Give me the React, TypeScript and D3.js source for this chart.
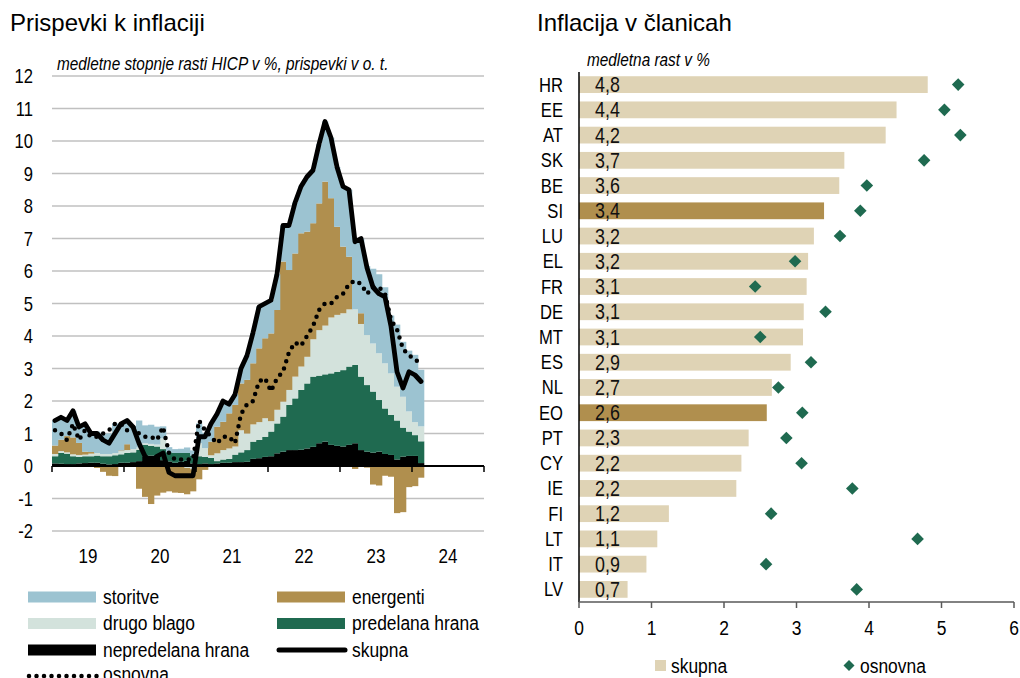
import React from "react";
import * as d3 from "d3";

// ---------- Left chart data: monthly, Jan 2019 .. Feb 2024 ----------
const yearLabels = ["19", "20", "21", "22", "23", "24"];

// nepredelana hrana (unprocessed food), contributions in p.p.
const unprocessedFood = [
  0.08, 0.07, 0.06, 0.06, 0.08, 0.09, 0.10, 0.10, 0.07, 0.05, 0.06, 0.10,
  0.10, 0.12, 0.15, 0.30, 0.32, 0.28, 0.18, 0.14, 0.10, 0.13, 0.16, 0.08,
  0.06, 0.08, 0.06, 0.08, 0.10, 0.10, 0.12, 0.12, 0.13, 0.22, 0.24, 0.28,
  0.30, 0.39, 0.44, 0.49, 0.49, 0.50, 0.54, 0.59, 0.70, 0.75, 0.65, 0.62,
  0.60, 0.65, 0.70, 0.49, 0.44, 0.41, 0.44, 0.37, 0.34, 0.20, 0.29, 0.31,
  0.31, 0.09,
];
// predelana hrana (processed food)
const processedFood = [
  0.22, 0.33, 0.32, 0.24, 0.20, 0.21, 0.20, 0.22, 0.23, 0.25, 0.27, 0.26,
  0.30, 0.30, 0.35, 0.35, 0.30, 0.32, 0.34, 0.28, 0.30, 0.27, 0.24, 0.24,
  0.24, 0.20, 0.19, 0.07, 0.10, 0.12, 0.23, 0.30, 0.36, 0.53, 0.56, 0.62,
  0.76, 0.92, 1.08, 1.39, 1.59, 1.84, 2.00, 2.16, 2.08, 2.07, 2.20, 2.28,
  2.35, 2.41, 2.41, 2.26, 2.05, 1.88, 1.59, 1.40, 1.23, 1.20, 0.89, 0.75,
  0.64, 0.67,
];
// drugo blago (non-energy industrial goods)
const otherGoods = [
  0.07, 0.06, 0.04, 0.06, 0.06, 0.05, 0.08, 0.08, 0.07, 0.07, 0.07, 0.10,
  0.09, 0.10, 0.07, 0.05, 0.06, 0.06, 0.33, -0.02, -0.02, -0.03, -0.06, -0.10,
  0.40, 0.27, 0.08, 0.24, 0.29, 0.32, 0.25, 0.68, 0.51, 0.53, 0.55, 0.57,
  0.32, 0.42, 0.46, 0.46, 0.67, 0.72, 0.82, 1.15, 1.40, 1.50, 1.72, 1.75,
  1.75, 1.76, 1.71, 1.62, 1.54, 1.48, 1.44, 1.39, 1.28, 1.04, 0.95, 0.62,
  0.40, 0.46,
];
// energenti (energy)
const energy = [
  0.26, 0.35, 0.50, 0.52, 0.37, 0.09, 0.05, -0.06, -0.18, -0.30, -0.31, 0.02,
  0.18, -0.03, -0.70, -0.95, -1.17, -0.91, -0.82, -0.76, -0.80, -0.80, -0.81, -0.68,
  -0.41, -0.12, 0.42, 0.82, 0.87, 1.08, 1.28, 1.44, 1.65, 1.88, 2.27, 2.46,
  2.70, 3.07, 4.31, 3.69, 3.79, 4.10, 3.85, 3.57, 3.90, 4.43, 3.67, 2.71,
  2.05, 1.62, -0.09, 0.33, -0.05, -0.57, -0.60, -0.30, -0.33, -1.45, -1.42, -0.65,
  -0.62, -0.36,
];
// storitve (services)
const services = [
  0.77, 0.69, 0.48, 0.82, 0.49, 0.86, 0.57, 0.66, 0.61, 0.63, 0.91, 0.82,
  0.73, 0.71, 0.83, 0.55, 0.59, 0.55, 0.37, 0.16, 0.12, 0.13, 0.17, 0.16,
  0.61, 0.47, 0.55, 0.39, 0.64, 0.28, 0.32, 0.46, 0.75, 0.94, 1.28, 1.07,
  1.02, 1.10, 1.11, 1.37, 1.56, 1.44, 1.69, 1.63, 1.82, 1.85, 1.86, 1.84,
  1.85, 2.06, 2.17, 2.30, 2.12, 2.30, 2.43, 2.34, 1.78, 1.91, 1.69, 1.87,
  2.07, 1.74,
];
// skupna (headline HICP, y/y %)
const headline = [
  1.4, 1.5, 1.4, 1.7, 1.2, 1.3, 1.0, 1.0, 0.8, 0.7, 1.0, 1.3,
  1.4, 1.2, 0.7, 0.3, 0.1, 0.3, 0.4, -0.2, -0.3, -0.3, -0.3, -0.3,
  0.9, 0.9, 1.3, 1.6, 2.0, 1.9, 2.2, 3.0, 3.4, 4.1, 4.9, 5.0,
  5.1, 5.9, 7.4, 7.4, 8.1, 8.6, 8.9, 9.1, 9.9, 10.6, 10.1, 9.2,
  8.6, 8.5, 6.9, 7.0, 6.1, 5.5, 5.3, 5.2, 4.3, 2.9, 2.4, 2.9,
  2.8, 2.6,
];
// osnovna (core, y/y %)
const core = [
  1.1, 1.0, 0.8, 1.3, 0.8, 1.1, 0.9, 0.9, 1.0, 1.1, 1.3, 1.3,
  1.1, 1.2, 1.0, 0.9, 0.9, 0.8, 1.2, 0.4, 0.2, 0.2, 0.2, 0.2,
  1.4, 1.1, 0.9, 0.7, 0.9, 0.9, 0.7, 1.6, 1.9, 2.0, 2.6, 2.7,
  2.3, 2.7, 2.9, 3.5, 3.8, 3.7, 4.0, 4.3, 4.8, 5.0, 5.0, 5.2,
  5.3, 5.6, 5.7, 5.6, 5.3, 5.5, 5.5, 5.3, 4.5, 4.2, 3.6, 3.4,
  3.3, 3.1,
];
const yTicksLeft = [-2, -1, 0, 1, 2, 3, 4, 5, 6, 7, 8, 9, 10, 11, 12];

// ---------- Right chart data ----------
const countries = ["HR", "EE", "AT", "SK", "BE", "SI", "LU", "EL", "FR", "DE", "MT", "ES", "NL", "EO", "PT", "CY", "IE", "FI", "LT", "IT", "LV"];
const countryTotal = [4.81, 4.38, 4.23, 3.66, 3.59, 3.38, 3.24, 3.16, 3.14, 3.10, 3.09, 2.92, 2.66, 2.59, 2.34, 2.24, 2.17, 1.24, 1.08, 0.93, 0.67];
const countryCore = [5.23, 5.04, 5.26, 4.76, 3.97, 3.88, 3.60, 2.98, 2.43, 3.40, 2.50, 3.20, 2.75, 3.08, 2.86, 3.07, 3.77, 2.65, 4.67, 2.58, 3.83];
const highlighted = ["SI", "EO"];
const xTicksRight = [0, 1, 2, 3, 4, 5, 6];

// ---------- styles ----------
const C_SERV = "#9cc3d1";
const C_GOODS = "#d3e2dc";
const C_ENERGY = "#b08f4e";
const C_PROC = "#1f6a50";
const C_UNPROC = "#000000";
const C_BEIGE = "#dfd3b5";
const C_DIAMOND = "#1f6a50";
const SANS = "'Liberation Sans', Arial, sans-serif";
const NARROW_SCALE = 0.83;

const seriesKeys = ["unproc", "proc", "goods", "energy", "serv"];
const seriesColors: Record<string, string> = {
  unproc: C_UNPROC, proc: C_PROC, goods: C_GOODS, energy: C_ENERGY, serv: C_SERV,
};

// Narrow text: regular sans compressed horizontally (Arial Narrow look)
function NText(props: {
  x: number; y: number; size: number; anchor?: "start" | "middle" | "end";
  italic?: boolean; fill?: string; sx?: number; children: React.ReactNode;
}) {
  const sx = props.sx ?? NARROW_SCALE;
  return (
    <text
      transform={`translate(${props.x},${props.y}) scale(${sx},1)`}
      textAnchor={props.anchor ?? "start"}
      fontFamily={SANS}
      fontSize={props.size}
      fontStyle={props.italic ? "italic" : "normal"}
      fill={props.fill ?? "#000"}
    >
      {props.children}
    </text>
  );
}

export default function App() {
  // Left chart scales
  const nMonths = yearLabels.length * 12;
  const x = d3.scaleLinear().domain([0, nMonths]).range([52, 484]);
  const y = d3.scaleLinear().domain([-2, 12]).range([531, 76]);

  const rows = headline.map((_, i) => ({
    i,
    unproc: unprocessedFood[i],
    proc: processedFood[i],
    goods: otherGoods[i],
    energy: energy[i],
    serv: services[i],
  }));
  const stacked = d3.stack<any>().keys(seriesKeys).offset(d3.stackOffsetDiverging)(rows);

  const lineGen = d3.line<number>().x((_, i) => x(i + 0.5)).y((d) => y(d));

  // Right chart scales
  const xr = d3.scaleLinear().domain([0, 6]).range([579, 1014]);
  const yr = d3.scaleBand<string>().domain(countries).range([72, 602]).paddingInner(0.335).paddingOuter(0.1675);
  const fmt = (v: number) => d3.format(".1f")(v).replace(".", ",");

  const legendLeft = [
    { label: "storitve", color: C_SERV, col: 0, row: 0 },
    { label: "energenti", color: C_ENERGY, col: 1, row: 0 },
    { label: "drugo blago", color: C_GOODS, col: 0, row: 1 },
    { label: "predelana hrana", color: C_PROC, col: 1, row: 1 },
    { label: "nepredelana hrana", color: C_UNPROC, col: 0, row: 2 },
  ];
  const legColX = [28, 277];
  const legRowY = [597, 623.5, 650, 676];

  return (
    <svg
      width={1020}
      height={678}
      style={{ position: "absolute", left: 0, top: 0, background: "#fff" }}
    >
      {/* Titles */}
      <text x={10} y={31} fontFamily={SANS} fontSize={24} fill="#000">Prispevki k inflaciji</text>
      <text x={537} y={31} fontFamily={SANS} fontSize={24} fill="#000">Inflacija v članicah</text>
      <NText x={57} y={70} size={18.5} italic>medletne stopnje rasti HICP v %, prispevki v o. t.</NText>
      <NText x={587} y={66} size={18.5} italic>medletna rast v %</NText>

      {/* Left gridlines */}
      {yTicksLeft.filter((t) => t !== 0).map((t) => (
        <line key={t} x1={52} x2={484} y1={y(t)} y2={y(t)} stroke="#c0c0c0" strokeWidth={1.5} />
      ))}
      {yTicksLeft.map((t) => (
        <NText key={"yl" + t} x={33} y={y(t) + 7} size={20} anchor="end">{t}</NText>
      ))}

      {/* Stacked bars */}
      {stacked.map((s) => (
        <g key={s.key} fill={seriesColors[s.key]}>
          {s.map((d, i) => {
            const y0 = y(Math.max(d[0], d[1]));
            const y1 = y(Math.min(d[0], d[1]));
            if (Math.abs(y1 - y0) < 0.01) return null;
            return <rect key={i} x={x(i)} y={y0} width={x(i + 1) - x(i) + 0.3} height={y1 - y0} />;
          })}
        </g>
      ))}

      {/* Zero axis + ticks */}
      <line x1={52} x2={484} y1={y(0)} y2={y(0)} stroke="#000" strokeWidth={2} />
      {d3.range(0, yearLabels.length + 1).map((k) => (
        <line key={"tk" + k} x1={x(k * 12)} x2={x(k * 12)} y1={y(0)} y2={y(0) + 6} stroke="#000" strokeWidth={1.5} />
      ))}
      {yearLabels.map((lab, k) => (
        <NText key={"xl" + lab} x={x(k * 12 + 6)} y={563} size={20.5} anchor="middle">{lab}</NText>
      ))}

      {/* Lines */}
      <path d={lineGen(core) || ""} fill="none" stroke="#000" strokeWidth={4.5} strokeLinecap="round" strokeDasharray="0 7.6" />
      <path d={lineGen(headline) || ""} fill="none" stroke="#000" strokeWidth={4.8} strokeLinejoin="round" strokeLinecap="round" />

      {/* Left legend */}
      {legendLeft.map((l) => (
        <g key={l.label}>
          <rect x={legColX[l.col]} y={legRowY[l.row] - 5.5} width={68} height={11} fill={l.color} />
          <NText x={legColX[l.col] + 75} y={legRowY[l.row] + 6.5} size={21}>{l.label}</NText>
        </g>
      ))}
      <line x1={279} x2={345} y1={legRowY[2]} y2={legRowY[2]} stroke="#000" strokeWidth={5} strokeLinecap="round" />
      <NText x={352} y={legRowY[2] + 6.5} size={21}>skupna</NText>
      <line x1={29} x2={97} y1={legRowY[3]} y2={legRowY[3]} stroke="#000" strokeWidth={4.5} strokeLinecap="round" strokeDasharray="0 7.5" />
      <NText x={103} y={legRowY[3] + 5} size={21}>osnovna</NText>

      {/* Right chart bars */}
      {countries.map((c, i) => (
        <rect
          key={"b" + c}
          x={xr(0)}
          y={yr(c)}
          width={xr(countryTotal[i]) - xr(0)}
          height={yr.bandwidth()}
          fill={highlighted.includes(c) ? C_ENERGY : C_BEIGE}
        />
      ))}
      {countries.map((c, i) => (
        <NText key={"v" + c} x={595} y={(yr(c) as number) + yr.bandwidth() / 2 + 7.5} size={21.5} fill="#111">
          {fmt(countryTotal[i])}
        </NText>
      ))}
      {countries.map((c, i) => {
        const cx = xr(countryCore[i]);
        const cy = (yr(c) as number) + yr.bandwidth() / 2;
        const r = 6.3;
        return (
          <path key={"d" + c} d={`M${cx},${cy - r}L${cx + r},${cy}L${cx},${cy + r}L${cx - r},${cy}Z`} fill={C_DIAMOND} />
        );
      })}
      {countries.map((c) => (
        <NText key={"c" + c} x={563} y={(yr(c) as number) + yr.bandwidth() / 2 + 7} size={20} anchor="end">{c}</NText>
      ))}

      {/* Right axes */}
      <line x1={579} x2={579} y1={72} y2={602} stroke="#000" strokeWidth={1.5} />
      <line x1={579} x2={1014} y1={602} y2={602} stroke="#595959" strokeWidth={1.5} />
      {xTicksRight.map((t) => (
        <g key={"rt" + t}>
          <line x1={xr(t)} x2={xr(t)} y1={602} y2={608} stroke="#595959" strokeWidth={1.5} />
          <NText x={xr(t)} y={635} size={21} anchor="middle">{t}</NText>
        </g>
      ))}

      {/* Right legend */}
      <rect x={655} y={660} width={11} height={11} fill={C_BEIGE} />
      <NText x={671} y={672.5} size={21}>skupna</NText>
      <path d={`M849,660L854.5,665.5L849,671L843.5,665.5Z`} fill={C_DIAMOND} />
      <NText x={860} y={672.5} size={21}>osnovna</NText>
    </svg>
  );
}
